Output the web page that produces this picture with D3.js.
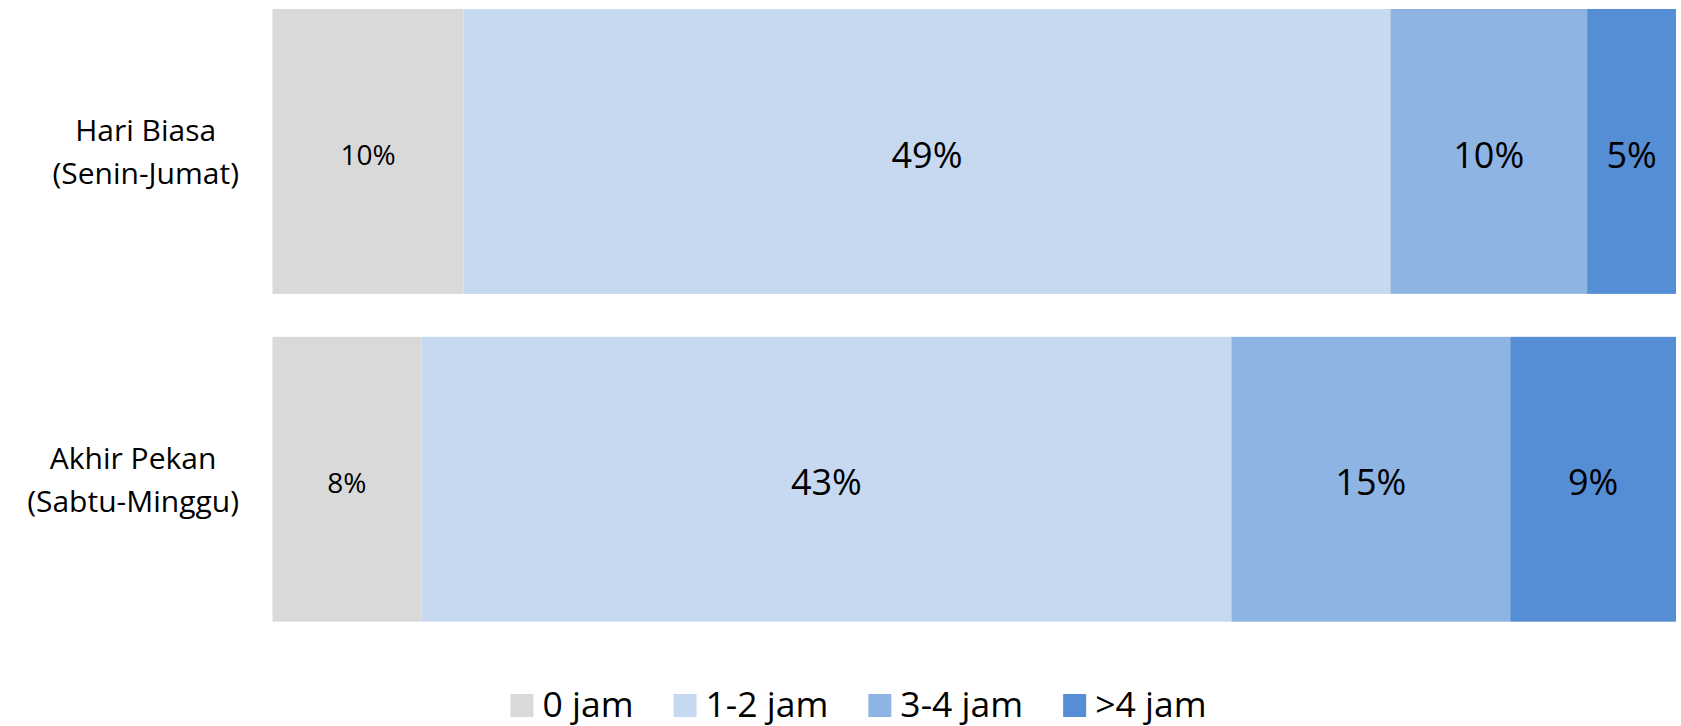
<!DOCTYPE html>
<html>
<head>
<meta charset="utf-8">
<script src="https://cdn.jsdelivr.net/npm/d3@7"></script>
<style>
  html, body { margin: 0; padding: 0; background: #ffffff; }
  svg { display: block; }
  text { font-family: "Open Sans", "Noto Sans", sans-serif; fill: #000000; }
</style>
</head>
<body>
<svg id="chart" width="1681" height="726"></svg>
<script>
// ---- Data ----
const categories = ["Hari Biasa (Senin-Jumat)", "Akhir Pekan (Sabtu-Minggu)"];
const categoryLines = [["Hari Biasa", "(Senin-Jumat)"], ["Akhir Pekan", "(Sabtu-Minggu)"]];
const seriesNames = ["0 jam", "1-2 jam", "3-4 jam", ">4 jam"];
const hariBiasa = [10.1, 49.0, 10.4, 4.7];
const akhirPekan = [7.9, 43.0, 14.8, 8.8];
const colors = ["#D9D9D9", "#C6D9F0", "#8EB4E3", "#558ED5"];

// ---- Build table ----
const rows = [hariBiasa, akhirPekan].map((vals, i) => {
  const r = { category: categories[i] };
  seriesNames.forEach((s, j) => r[s] = vals[j]);
  return r;
});

const svg = d3.select("#chart");

const x = d3.scaleLinear().domain([0, 1]).range([272.5, 1676]);
const y = d3.scaleBand().domain(categories).range([9, 621.7]).paddingInner(0.131).paddingOuter(0);
const color = d3.scaleOrdinal().domain(seriesNames).range(colors);

const stacked = d3.stack().keys(seriesNames).offset(d3.stackOffsetExpand)(rows);

const layers = svg.append("g").selectAll("g.layer")
  .data(stacked)
  .join("g")
  .attr("class", "layer")
  .attr("fill", d => color(d.key));

layers.selectAll("rect")
  .data(d => d.map(p => ({ key: d.key, p })))
  .join("rect")
  .attr("x", d => x(d.p[0]))
  .attr("width", d => x(d.p[1]) - x(d.p[0]))
  .attr("y", d => y(d.p.data.category))
  .attr("height", y.bandwidth());

// ---- Data labels ----
layers.selectAll("text")
  .data(d => d.map(p => ({ key: d.key, p })))
  .join("text")
  .attr("x", d => (x(d.p[0]) + x(d.p[1])) / 2)
  .attr("y", d => y(d.p.data.category) + y.bandwidth() / 2 + (d.key === seriesNames[0] ? 13.5 : 16.2))
  .attr("text-anchor", "middle")
  .style("font-size", d => d.key === seriesNames[0] ? "28px" : "36px")
  .text(d => Math.round(d.p.data[d.key]) + "%");

// ---- Category labels ----
const catG = svg.append("g");
categories.forEach((c, i) => {
  const cy = y(c) + y.bandwidth() / 2;
  const g = catG.append("g");
  const lines = categoryLines[i];
  const texts = lines.map((ln, k) => g.append("text")
    .attr("y", cy + 11.2 - 21.5 + k * 43)
    .attr("text-anchor", "middle")
    .style("font-size", "30px")
    .text(ln));
  const maxW = d3.max(texts, t => t.node().getComputedTextLength());
  texts.forEach(t => t.attr("x", 239 - maxW / 2));
});

// ---- Legend ----
const legend = svg.append("g");
const sq = 23, gapSq = 9, gapItem = 40;
let cursor = 0;
seriesNames.forEach(s => {
  const g = legend.append("g");
  g.append("rect").attr("x", 0).attr("y", 694).attr("width", sq).attr("height", sq).attr("fill", color(s));
  const t = g.append("text").attr("x", sq + gapSq).attr("y", 716.5).style("font-size", "35.5px").text(s);
  const w = sq + gapSq + t.node().getComputedTextLength();
  g.attr("transform", `translate(${cursor},0)`);
  cursor += w + gapItem;
});
const totalW = cursor - gapItem;
legend.attr("transform", `translate(${858.5 - totalW / 2},0)`);
</script>
</body>
</html>
